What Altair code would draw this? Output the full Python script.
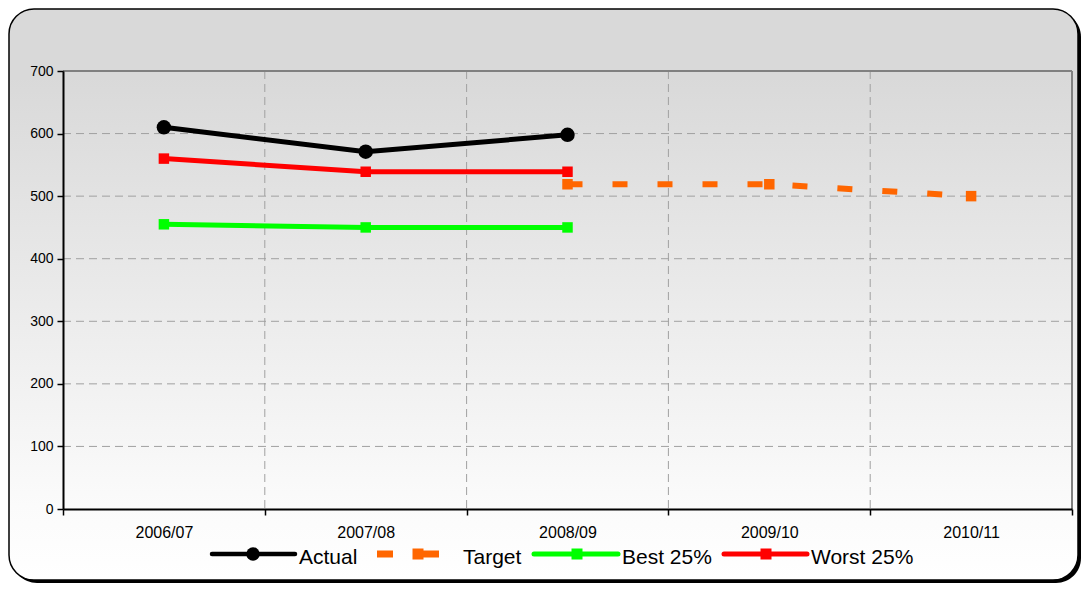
import altair as alt
import pandas as pd

years = ["2006/07", "2007/08", "2008/09", "2009/10", "2010/11"]
series_names = ["Actual", "Target", "Best 25%", "Worst 25%"]
actual = [610, 571, 598, None, None]
target = [None, None, 519, 519, 500]
best = [455, 450, 450, None, None]
worst = [560, 539, 539, None, None]
colors = ["#000000", "#ff6600", "#00ff00", "#ff0000"]
y_ticks = [0, 100, 200, 300, 400, 500, 600, 700]

rows = []
for name, vals in zip(series_names, [actual, target, best, worst]):
    for yr, v in zip(years, vals):
        if v is not None:
            rows.append({"series": name, "year": yr, "value": v})
df = pd.DataFrame(rows)

W, H = 1009, 438
FONT = "Liberation Sans"

x_axis = alt.Axis(tickBand="extent", grid=False, labelFontSize=16, labelColor="black",
                  labelPadding=9, tickSize=6, tickColor="black", tickWidth=1.5,
                  domainColor="black", domainWidth=2, labelAngle=0, zindex=1, title=None)
y_axis = alt.Axis(values=y_ticks, grid=False, labelFontSize=14, labelColor="black",
                  labelPadding=4, tickSize=6, tickColor="black", tickWidth=1.5,
                  domainColor="black", domainWidth=2, zindex=1, title=None)
x_scale = alt.Scale(domain=years, paddingInner=0, paddingOuter=0)
y_scale = alt.Scale(domain=[0, 700], nice=False)

X = alt.X("year:N", scale=x_scale, axis=x_axis)
Y = alt.Y("value:Q", scale=y_scale, axis=y_axis)
col_scale = alt.Scale(domain=series_names, range=colors)

one = pd.DataFrame({"a": [0]})

# background panel with shadow
shadow = alt.Chart(one).mark_rect(fill="black", cornerRadius=25).encode(
    x=alt.value(-51), x2=alt.value(1018), y=alt.value(-59), y2=alt.value(512))
panel = alt.Chart(one).mark_rect(
    fill=alt.Gradient(gradient="linear",
                      stops=[alt.GradientStop(offset=0, color="#d9d9d9"),
                             alt.GradientStop(offset=0.12, color="#d9d9d9"),
                             alt.GradientStop(offset=0.87, color="#fbfbfb"),
                             alt.GradientStop(offset=1, color="#ffffff")],
                      x1=0, x2=0, y1=0, y2=1),
    stroke="black", strokeWidth=1.5, cornerRadius=25).encode(
    x=alt.value(-54), x2=alt.value(1015), y=alt.value(-62), y2=alt.value(509))

# grid lines and plot border
hgrid = alt.Chart(pd.DataFrame({"value": y_ticks[1:-1]})).mark_rule(
    color="#a0a0a0", strokeWidth=1, strokeDash=[8, 5]).encode(y=Y)
vgrid = alt.Chart(pd.DataFrame({"year": years[1:]})).mark_rule(
    color="#a0a0a0", strokeWidth=1, strokeDash=[8, 5]).encode(
    x=alt.X("year:N", scale=x_scale, axis=x_axis, bandPosition=0))
top_border = alt.Chart(one).mark_rule(color="#808080", strokeWidth=2).encode(
    x=alt.value(0), x2=alt.value(W), y=alt.value(0))
right_border = alt.Chart(one).mark_rule(color="#808080", strokeWidth=2).encode(
    x=alt.value(W), y=alt.value(0), y2=alt.value(H))

# data
solid = alt.Chart(df).transform_filter("datum.series != 'Target'").mark_line(
    strokeWidth=5).encode(x=X, y=Y, color=alt.Color("series:N", scale=col_scale, legend=None))
tline = alt.Chart(df).transform_filter("datum.series == 'Target'").mark_line(
    strokeWidth=6, strokeDash=[15, 30], color="#ff6600").encode(x=X, y=Y)
squares = alt.Chart(df).transform_filter("datum.series != 'Actual'").mark_point(
    shape="square", filled=True, opacity=1, size=110).encode(
    x=X, y=Y, color=alt.Color("series:N", scale=col_scale, legend=None))
circles = alt.Chart(df).transform_filter("datum.series == 'Actual'").mark_point(
    shape="circle", filled=True, opacity=1, size=210, color="black").encode(x=X, y=Y)

# legend (drawn as marks below the plot)
LY = 483
legend_layers = []
# symbol line segments per item: list of (x1, x2, width)
seg_spec = {
    "Actual": [(149, 232, 4.5)],
    "Target": [(314, 330, 7), (360, 376, 7)],
    "Best 25%": [(471, 555, 5)],
    "Worst 25%": [(661, 744, 5)],
}
marker_spec = {
    "Actual": (190, "circle", 180),
    "Target": (355, "square", 121),
    "Best 25%": (514, "square", 121),
    "Worst 25%": (703, "square", 121),
}
label_x = {"Actual": 236, "Target": 400, "Best 25%": 559, "Worst 25%": 748}

for name, col in zip(series_names, colors):
    for (x1, x2, sw) in seg_spec[name]:
        legend_layers.append(
            alt.Chart(one).mark_rule(color=col, strokeWidth=sw,
                                     strokeCap="round" if name != "Target" else "butt").encode(
                x=alt.value(x1), x2=alt.value(x2), y=alt.value(LY)))
    mx, shp, sz = marker_spec[name]
    legend_layers.append(
        alt.Chart(one).mark_point(shape=shp, filled=True, opacity=1, size=sz, color=col).encode(
            x=alt.value(mx), y=alt.value(LY)))
    legend_layers.append(
        alt.Chart(one).mark_text(text=name, align="left", baseline="alphabetic",
                                 fontSize=21, font=FONT, color="black").encode(
            x=alt.value(label_x[name]), y=alt.value(LY + 10)))

chart = alt.layer(shadow, panel, hgrid, vgrid, top_border, right_border,
                  solid, tline, squares, circles, *legend_layers).properties(
    width=W, height=H,
    autosize=alt.AutoSizeParams(type="none"),
    padding={"left": 55, "top": 63, "right": 10, "bottom": 75},
).configure_view(stroke=None).configure(font=FONT)

chart.save("out.html", embed_options={"renderer": "svg", "actions": False})
